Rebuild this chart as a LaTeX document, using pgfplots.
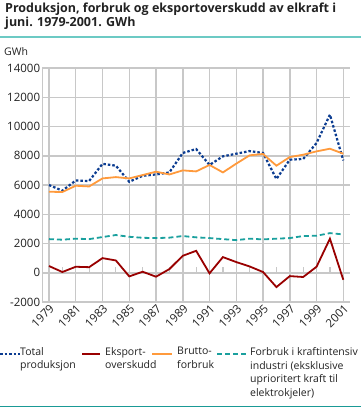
\documentclass[border=0pt]{standalone}
\usepackage{pgfplots}
\pgfplotsset{compat=1.18}
\usepackage{fontspec}
\setmainfont{Open Sans}
\definecolor{gridgray}{HTML}{C8C8C8}
\definecolor{cblue}{HTML}{0B3C91}
\definecolor{cred}{HTML}{990000}
\definecolor{corange}{HTML}{FF9A3C}
\definecolor{cteal}{HTML}{1AA09E}
\definecolor{ltteal}{HTML}{6CCAC4}
\definecolor{dkteal}{HTML}{1A9A96}
\definecolor{txt}{HTML}{222222}
\pgfplotstableread{
year total eksport brutto kraft
1979 6000 460 5540 2300
1980 5610 50 5520 2260
1981 6310 410 5950 2330
1982 6270 380 5900 2300
1983 7450 1000 6450 2440
1984 7320 840 6540 2580
1985 6220 -250 6450 2460
1986 6630 70 6680 2390
1987 6720 -270 6910 2370
1988 6860 250 6720 2400
1989 8190 1160 7000 2510
1990 8460 1500 6930 2420
1991 7370 -40 7370 2370
1992 7960 1070 6860 2300
1993 8140 730 7460 2230
1994 8320 430 8030 2330
1995 8190 50 8120 2280
1996 6410 -980 7320 2330
1997 7730 -230 7910 2370
1998 7780 -290 8070 2510
1999 8870 410 8300 2530
2000 10810 2330 8480 2710
2001 7680 -480 8140 2620
}\datatable
\begin{document}
\begin{tikzpicture}[x=1pt,y=1pt]
\useasboundingbox[fill=white] (0,0) rectangle (361,408);
\node[anchor=base west, inner sep=0pt, font=\fontsize{12.5}{15}\selectfont\bfseries, text=txt] at (5,395) {Produksjon, forbruk og eksportoverskudd av elkraft i};
\node[anchor=base west, inner sep=0pt, font=\fontsize{12.5}{15}\selectfont\bfseries, text=txt] at (5,381) {juni. 1979-2001. GWh};
\draw[ltteal, line width=2.2pt] (0,371) -- (361,371);
\node[anchor=base west, inner sep=0pt, font=\fontsize{10.5}{12}\selectfont, text=txt] at (4,352) {GWh};
\begin{axis}[
  at={(42.3pt,106pt)}, anchor=south west, scale only axis,
  width=307.7pt, height=234pt,
  xmin=1978.5, xmax=2001.5, ymin=-2000, ymax=14000,
  xtick={1979,1981,...,2001}, ytick={-2000,0,...,14000},
  scaled ticks=false,
  axis lines*=left, axis line style={draw=gridgray, line width=1.5pt, -},
  grid=major, major grid style={draw=gridgray, line width=1.5pt},
  major tick length=0pt,
  /pgf/number format/1000 sep={},
  /pgf/number format/assume math mode=true,
  ticklabel style={font=\fontsize{11.5}{13}\selectfont, text=txt},
  xticklabel style={rotate=45, anchor=north east, inner sep=1pt},
  yticklabel style={inner sep=2pt},
  clip=false,
]
\pgfplotsinvokeforeach{1980,1982,...,2000}{\draw[gridgray, line width=1.2pt] (axis cs:#1,0) -- ([yshift=6pt]axis cs:#1,0);}
\addplot[cblue, line width=2.2pt, dash pattern=on 2.5pt off 2pt] table[x=year,y=total] {\datatable};
\addplot[cred, line width=1.8pt] table[x=year,y=eksport] {\datatable};
\addplot[corange, line width=1.8pt] table[x=year,y=brutto] {\datatable};
\addplot[cteal, line width=1.8pt, dash pattern=on 5pt off 3pt] table[x=year,y=kraft] {\datatable};
\end{axis}
\begin{scope}[every node/.style={anchor=north west, inner sep=0pt, align=left, font=\fontsize{10.5}{13.8}\selectfont, text=txt}]
\draw[cblue, line width=2pt, dash pattern=on 2.5pt off 2pt] (0,54) -- (20,54);
\node at (20,61) {Total\\produksjon};
\draw[cred, line width=1.8pt] (82,54) -- (100,54);
\node at (105,61) {Eksport-\\overskudd};
\draw[corange, line width=1.8pt] (152,54) -- (172,54);
\node at (177,61) {Brutto-\\forbruk};
\draw[cteal, line width=1.8pt, dash pattern=on 5pt off 3pt] (217,54) -- (247,54);
\node at (250,61) {Forbruk i kraftintensiv\\industri (eksklusive\\uprioritert kraft til\\elektrokjeler)};
\end{scope}
\draw[dkteal, line width=1pt] (0,1) -- (361,1);
\end{tikzpicture}
\end{document}
